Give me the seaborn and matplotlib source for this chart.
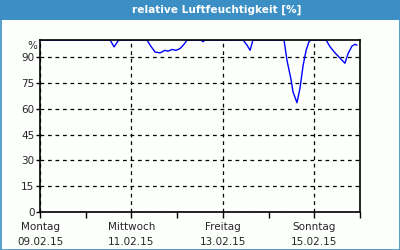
import matplotlib
matplotlib.use("Agg")
import matplotlib.pyplot as plt
import matplotlib.patches as mpatches
import seaborn as sns
import pandas as pd
import numpy as np

# hours since 09.02.15 00:00 and relative humidity (%), values >=100 are clipped at top
hours = [0, 34.7, 36.8, 38.9, 41.0, 42.0, 56.2, 57.8, 60.4, 63.0, 65.6, 67.2, 69.3,
         71.4, 73.5, 75.6, 77.2, 84.5, 85.6, 86.6, 106.6, 108.7, 110.3, 111.8, 128.1,
         129.7, 131.8, 132.8, 134.9, 136.5, 138.1, 139.7, 141.2, 142.3, 150.2, 152.3,
         154.9, 157.5, 160.1, 161.7, 163.8, 165.4, 166.4]
humidity = [100, 100, 100, 96, 99.5, 100, 100, 97, 93, 92.5, 94, 93.5, 94.5,
            94, 95, 97.5, 100, 100, 99, 100, 100, 97, 94, 100, 100,
            88, 77, 70, 63.5, 72, 85, 94, 99, 100, 100, 96,
            92.5, 89.5, 86.5, 92, 96.5, 97.5, 97]

day_names = ["Montag", "Mittwoch", "Freitag", "Sonntag"]
day_dates = ["09.02.15", "11.02.15", "13.02.15", "15.02.15"]
y_ticks = [0, 15, 30, 45, 60, 75, 90]

df = pd.DataFrame({"h": hours, "rh": humidity})

sns.set_style("white")
plt.rcParams['font.family'] = ['DejaVu Sans']

fig = plt.figure(figsize=(4, 2.5), dpi=100)
fig.patch.set_facecolor("#fcfffc")

# title bar and frame
fig.patches.append(mpatches.Rectangle((0, 1 - 20/250), 1, 20/250, transform=fig.transFigure,
                                      facecolor="#3b8fc4", edgecolor="none", zorder=0))
fig.patches.append(mpatches.Rectangle((0.5/400, 0.5/250), 399/400, 249/250, transform=fig.transFigure,
                                      facecolor="none", edgecolor="#3b8fc4", lw=1.2, zorder=0))
fig.text(217/400, 1 - 10/250, "relative Luftfeuchtigkeit [%]", color="white",
         fontweight="bold", fontsize=7.6, ha="center", va="center")

ax = fig.add_axes([40/400, 38/250, 320/400, 172/250])
ax.set_facecolor("#fcfffc")
sns.lineplot(data=df, x="h", y="rh", ax=ax, color="#0000ff", lw=1.0)

ax.set_xlim(0, 168)
ax.set_ylim(0, 100)
ax.set_xticks([0, 48, 96, 144])
ax.set_xticklabels([f"{n}\n{d}" for n, d in zip(day_names, day_dates)], fontsize=7.5,
                   linespacing=1.7)
ax.set_xticks([24, 72, 120, 168], minor=True)
ax.set_yticks(y_ticks)
ax.set_yticklabels([str(v) for v in y_ticks], fontsize=7.5)
ax.text(-3/320*168, 96.5, "%", ha="right", va="center", fontsize=7.5)
ax.set_xlabel("")
ax.set_ylabel("")

ax.grid(True, which="major", color="black", ls=(0, (3, 3)), lw=0.9)
for s in ax.spines.values():
    s.set_color("black")
    s.set_linewidth(1.2)
ax.tick_params(axis="x", which="both", direction="out", length=4, width=1, color="black", pad=3)
ax.tick_params(axis="y", which="major", direction="out", length=3, width=1, color="black", pad=1)
ax.tick_params(bottom=True, left=True, which="both")

fig.savefig("out.png", dpi=100, facecolor=fig.get_facecolor())
